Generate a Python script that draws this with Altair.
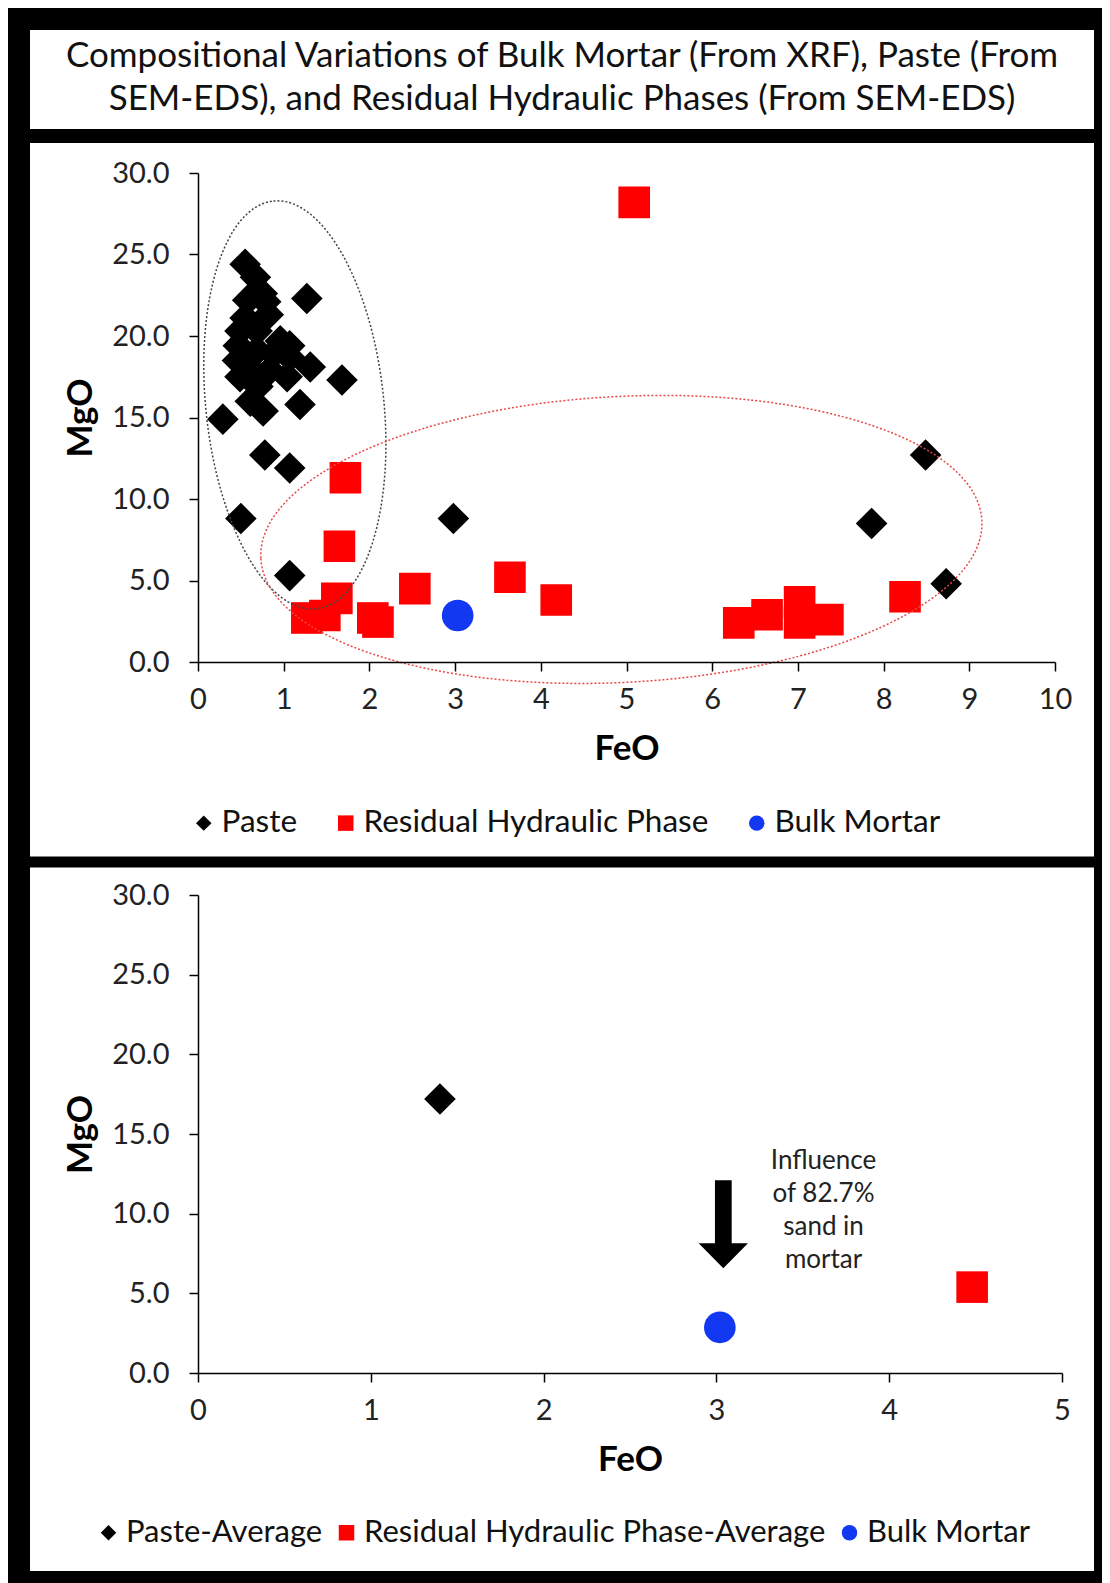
import altair as alt
import pandas as pd

# ---------------- data ----------------
TITLE_LINE_1 = "Compositional Variations of Bulk Mortar (From XRF), Paste (From"
TITLE_LINE_2 = "SEM-EDS), and Residual Hydraulic Phases (From SEM-EDS)"

series_top = ["Paste", "Residual Hydraulic Phase", "Bulk Mortar"]
series_bottom = ["Paste-Average", "Residual Hydraulic Phase-Average", "Bulk Mortar"]

paste_feo = [0.55, 0.67, 0.75, 0.79, 0.58, 1.27, 0.82, 0.55, 0.49, 0.69,
             1.07, 0.96, 0.47, 0.69, 0.88, 1.07, 1.31, 0.46, 0.64, 0.84,
             1.04, 1.68, 0.49, 0.70, 0.61, 0.76, 1.19, 0.29, 0.78, 1.07,
             0.50, 2.98, 1.07, 8.49, 7.86, 8.73]
paste_mgo = [24.4, 23.6, 22.6, 22.1, 22.2, 22.3, 21.3, 21.1, 20.3, 20.3,
             19.4, 19.7, 19.4, 19.1, 18.9, 18.7, 18.1, 18.5, 17.9, 17.9,
             17.5, 17.3, 17.5, 16.9, 16.0, 15.4, 15.8, 14.9, 12.7, 11.9,
             8.8, 8.8, 5.3, 12.7, 8.5, 4.8]

resid_feo = [5.09, 1.72, 1.65, 2.53, 1.62, 1.27, 1.48, 2.04, 2.10, 3.64,
             4.18, 6.31, 6.64, 7.02, 7.02, 7.35, 8.25]
resid_mgo = [28.2, 11.3, 7.1, 4.5, 3.9, 2.7, 2.85, 2.7, 2.45, 5.2,
             3.8, 2.4, 2.9, 3.7, 2.4, 2.6, 4.0]

bulk_feo = [3.03]
bulk_mgo = [2.85]

avg_feo = [1.40, 4.48, 3.02]
avg_mgo = [17.2, 5.39, 2.86]

x_ticks_top = [0, 1, 2, 3, 4, 5, 6, 7, 8, 9, 10]
x_ticks_bottom = [0, 1, 2, 3, 4, 5]
y_ticks = [0, 5, 10, 15, 20, 25, 30]

# annotation anchors (data space)
ellipse_feo = [1.13, 4.94]
ellipse_mgo = [15.77, 7.52]
arrow_feo = [3.04]
arrow_mgo = [9.33]
note_feo = [3.62]
note_mgo = [13.29]
NOTE_LINES = ["Influence", "of 82.7%", "sand in", "mortar"]

# ---------------- styling ----------------
FONT = "Lato"
RED = "#ff0000"
BLUE = "#1238f2"
colors = ["black", RED, BLUE]
shapes = ["diamond", "square", "circle"]

ELLIPSE_V = "M0,-1 A0.434,1 0 1,1 0,1 A0.434,1 0 1,1 0,-1 Z"
ELLIPSE_H = "M-1,0 A1,0.396 0 1,1 1,0 A1,0.396 0 1,1 -1,0 Z"
ARROW = "M-0.19,-1 L0.19,-1 L0.19,0.43 L0.56,0.43 L0,1 L-0.56,0.43 L-0.19,0.43 Z"

one = pd.DataFrame({"k": [0]})

TOP_W, TOP_H = 857, 489
BOT_W, BOT_H = 864, 478


def panel(y1, y2):
    return alt.Chart(one).mark_rect(color="white").encode(
        x=alt.value(-168), x2=alt.value(896), y=alt.value(y1), y2=alt.value(y2)
    )


def title_line(text, y):
    return alt.Chart(one).mark_text(
        text=text, font=FONT, fontSize=35, color="#111", align="center", baseline="middle"
    ).encode(x=alt.value(364), y=alt.value(y))


axis_common = dict(
    grid=False, domainColor="black", domainWidth=1.5, tickColor="black",
    tickWidth=1.5, tickSize=9, labelFont=FONT, labelFontSize=29,
    labelColor="#222", titleFont=FONT, titleFontSize=35, titleFontWeight="bold",
    titleColor="black", zindex=1, labelFlush=False, labelOverlap=False,
)


def x_enc(domain, ticks):
    return alt.X(
        "FeO:Q",
        scale=alt.Scale(domain=domain, nice=False, zero=False),
        axis=alt.Axis(values=ticks, format="d", title="FeO", labelBaseline="alphabetic",
                      labelPadding=37, titleY=97, titleBaseline="alphabetic", **axis_common),
    )


def y_enc(h):
    return alt.Y(
        "MgO:Q",
        scale=alt.Scale(domain=[0, 30], nice=False),
        axis=alt.Axis(values=y_ticks, format=".1f", title="MgO", labelPadding=20,
                      titleX=-100, titleY=h / 2, titleAngle=270, titleBaseline="bottom",
                      titleAlign="center", **axis_common),
    )


def legend(x, y, pad, fs):
    return alt.Legend(title=None, orient="none", legendX=x, legendY=y,
                      direction="horizontal", labelFont=FONT, labelFontSize=fs,
                      labelColor="#111", labelLimit=0, symbolSize=240,
                      symbolOffset=8, labelOffset=2, columnPadding=pad, zindex=1)


def points(df, domain, xdom, xticks, h, lg):
    return alt.Chart(df).mark_point(filled=True, opacity=1, size=1000).encode(
        x=x_enc(xdom, xticks),
        y=y_enc(h),
        color=alt.Color("Series:N", scale=alt.Scale(domain=domain, range=colors), legend=lg),
        shape=alt.Shape("Series:N", scale=alt.Scale(domain=domain, range=shapes), legend=lg),
        order=alt.Order("idx:Q"),
    )


top_df = pd.DataFrame({
    "FeO": paste_feo + resid_feo + bulk_feo,
    "MgO": paste_mgo + resid_mgo + bulk_mgo,
    "Series": [series_top[0]] * len(paste_feo) + [series_top[1]] * len(resid_feo)
              + [series_top[2]] * len(bulk_feo),
})
top_df["idx"] = range(len(top_df))

bot_df = pd.DataFrame({"FeO": avg_feo, "MgO": avg_mgo, "Series": series_bottom})
bot_df["idx"] = range(len(bot_df))

ell_df = pd.DataFrame({"FeO": ellipse_feo, "MgO": ellipse_mgo})

top_pts = points(top_df, series_top, [0, 10], x_ticks_top, TOP_H,
                 legend(-18, 634, 24, 31.5))

ell_black = alt.Chart(ell_df.iloc[[0]]).mark_point(
    shape=ELLIPSE_V, size=168100, angle=354, filled=False, color="#444",
    strokeWidth=1.5, strokeDash=[2, 2], opacity=1
).encode(x="FeO:Q", y="MgO:Q")

ell_red = alt.Chart(ell_df.iloc[[1]]).mark_point(
    shape=ELLIPSE_H, size=521284, angle=357, filled=False, color="#e84848",
    strokeWidth=1.5, strokeDash=[2, 2], opacity=1
).encode(x="FeO:Q", y="MgO:Q")

top = alt.layer(
    panel(-143, -44), panel(-30, 683.5),
    title_line(TITLE_LINE_1, -117.5), title_line(TITLE_LINE_2, -74),
    top_pts, ell_black, ell_red
).properties(width=TOP_W, height=TOP_H)

bot_pts = points(bot_df, series_bottom, [0, 5], x_ticks_bottom, BOT_H,
                 legend(-113, 622, 0, 31))

arrow = alt.Chart(pd.DataFrame({"FeO": arrow_feo, "MgO": arrow_mgo})).mark_point(
    shape=ARROW, size=7744, filled=True, color="black", opacity=1
).encode(x="FeO:Q", y="MgO:Q")

note = alt.Chart(pd.DataFrame({"FeO": note_feo, "MgO": note_mgo})).mark_text(
    text=NOTE_LINES, font=FONT, fontSize=26, color="#222", lineHeight=33,
    align="center", baseline="middle"
).encode(x="FeO:Q", y="MgO:Q")

bottom = alt.layer(panel(-27.4, 676), bot_pts, arrow, note).properties(
    width=BOT_W, height=BOT_H
)

chart = alt.vconcat(top, bottom, spacing=10).resolve_scale(
    x="independent", y="independent", color="independent", shape="independent"
).resolve_legend(color="independent", shape="independent").properties(
    padding={"left": 22, "top": 22, "right": 8, "bottom": 13}
).configure(background="black", font=FONT).configure_view(stroke=None)

chart.save("out.html", embed_options={"renderer": "svg", "actions": False})
